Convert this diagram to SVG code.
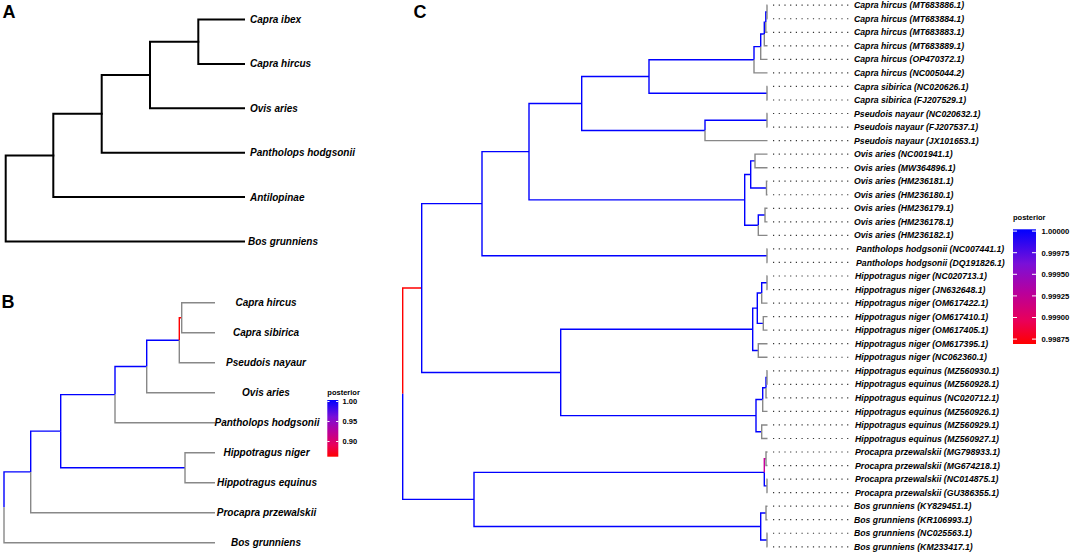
<svg xmlns="http://www.w3.org/2000/svg" width="1072" height="555" viewBox="0 0 1072 555">
<style>
.bg{fill:#fff}
.pl{font-family:"Liberation Sans",Arial,sans-serif;font-weight:bold;font-size:18px;fill:#000}
.ta{font-family:"Liberation Sans",Arial,sans-serif;font-weight:bold;font-style:italic;font-size:10px;fill:#000}
.tb{font-family:"Liberation Sans",Arial,sans-serif;font-weight:bold;font-style:italic;font-size:10px;fill:#000;text-anchor:middle}
.tc{font-family:"Liberation Sans",Arial,sans-serif;font-weight:bold;font-style:italic;font-size:8.7px;fill:#000}
.lg{font-family:"Liberation Sans",Arial,sans-serif;font-weight:bold;font-size:7.5px;fill:#000}
.lgc{font-family:"Liberation Sans",Arial,sans-serif;font-weight:bold;font-size:7.7px;fill:#000}
.ea{fill:none;stroke:#000;stroke-width:2;stroke-linejoin:miter;stroke-linecap:square}
.e{fill:none;stroke-width:1.4;stroke-linejoin:miter;stroke-linecap:butt}
.blue{stroke:#0000ff}
.grey{stroke:#888888}
.red{stroke:#ff0000}
.mag{stroke:#c8009c}
.dot{fill:none;stroke:#333;stroke-width:1.2;stroke-dasharray:1.2 4.5}
.tick{stroke:#fff;stroke-width:1}
</style>
<defs>
<linearGradient id="post" x1="0" y1="0" x2="0" y2="1">
<stop offset="0" stop-color="#0000ff"/>
<stop offset="0.3" stop-color="#7a10d8"/>
<stop offset="0.55" stop-color="#b8009c"/>
<stop offset="0.8" stop-color="#ea0058"/>
<stop offset="1" stop-color="#ff0000"/>
</linearGradient>
</defs>
<rect class="bg" x="0" y="0" width="1072" height="555"/>

<text class="pl" x="2.5" y="18.3">A</text>
<text class="pl" x="1.5" y="308.3">B</text>
<text class="pl" x="413.5" y="18.3">C</text>

<!-- Panel A -->
<g id="connectors-A">
<path class="ea" d="M53.3,155.48 H5.7 V241.5 H244"/>
<path class="ea" d="M101.7,113.85 H53.3 V197.1 H244"/>
<path class="ea" d="M150,75 H101.7 V152.7 H244"/>
<path class="ea" d="M198.3,41.7 H150 V108.3 H244"/>
<path class="ea" d="M244,19.5 H198.3 V63.9 H244"/>
</g>
<g id="A-capra-ibex"><text class="ta" x="250" y="23">Capra ibex</text></g>
<g id="A-capra-hircus"><text class="ta" x="250" y="67.4">Capra hircus</text></g>
<g id="A-ovis-aries"><text class="ta" x="250" y="111.8">Ovis aries</text></g>
<g id="A-pantholops"><text class="ta" x="250" y="156.2">Pantholops hodgsonii</text></g>
<g id="A-antilopinae"><text class="ta" x="250" y="200.6">Antilopinae</text></g>
<g id="A-bos"><text class="ta" x="248" y="245">Bos grunniens</text></g>

<!-- Panel B -->
<g id="connectors-B">
<path class="e blue" d="M4,507.31 V471.92 H30.7"/>
<path class="e blue" d="M30.7,471.92 V431.14 H60.7"/>
<path class="e blue" d="M60.7,431.14 V394.58 H115"/>
<path class="e blue" d="M60.7,431.14 V467.7 H185"/>
<path class="e blue" d="M115,394.58 V366.45 H146.7"/>
<path class="e blue" d="M146.7,366.45 V340.2 H179.3"/>
<path class="e red" d="M179.3,340.2 V317.7 H181.7"/>
<path class="e grey" d="M181.7,317.7 V302.7 H215"/>
<path class="e grey" d="M181.7,317.7 V332.7 H215"/>
<path class="e grey" d="M179.3,340.2 V362.7 H215"/>
<path class="e grey" d="M146.7,366.45 V392.7 H215"/>
<path class="e grey" d="M115,394.58 V422.7 H215"/>
<path class="e grey" d="M185,467.7 V452.7 H215"/>
<path class="e grey" d="M185,467.7 V482.7 H215"/>
<path class="e grey" d="M30.7,471.92 V512.7 H215"/>
<path class="e grey" d="M4,507.31 V542.7 H215"/>
</g>
<g id="B-capra-hircus"><text class="tb" x="266" y="306.3">Capra hircus</text></g>
<g id="B-capra-sibirica"><text class="tb" x="266" y="336.3">Capra sibirica</text></g>
<g id="B-pseudois"><text class="tb" x="266" y="366.3">Pseudois nayaur</text></g>
<g id="B-ovis"><text class="tb" x="266" y="396.3">Ovis aries</text></g>
<g id="B-pantholops"><text class="tb" x="267" y="426.3">Pantholops hodgsonii</text></g>
<g id="B-hipp-niger"><text class="tb" x="266.5" y="456.3">Hippotragus niger</text></g>
<g id="B-hipp-equinus"><text class="tb" x="267" y="486.3">Hippotragus equinus</text></g>
<g id="B-procapra"><text class="tb" x="266.5" y="516.3">Procapra przewalskii</text></g>
<g id="B-bos"><text class="tb" x="266" y="546.3">Bos grunniens</text></g>

<g id="legend-B">
<text class="lg" x="327.3" y="395.3">posterior</text>
<rect x="327.3" y="400" width="11" height="56.7" fill="url(#post)"/>
<path class="tick" d="M327.3,401.5 h2.2 M336.1,401.5 h2.2 M327.3,421.5 h2.2 M336.1,421.5 h2.2 M327.3,441.5 h2.2 M336.1,441.5 h2.2"/>
<text class="lg" x="342.5" y="404.2">1.00</text>
<text class="lg" x="342.5" y="424.2">0.95</text>
<text class="lg" x="342.5" y="444.2">0.90</text>
</g>

<!-- Panel C -->
<g id="connectors-C">
<path class="e red" d="M402.7,393.74 V288.07 H421.7"/>
<path class="e blue" d="M402.7,393.74 V499.41 H474
M421.7,288.07 V203.67 H482
M421.7,288.07 V372.47 H560.7
M482,203.67 V151.66 H529
M482,203.67 V255.69 H767
M529,151.66 V103.47 H581.7
M529,151.66 V199.84 H744.7
M581.7,103.47 V76.5 H649
M581.7,103.47 V130.45 H705
M649,76.5 V59.78 H754
M649,76.5 V93.21 H767
M705,130.45 V120.29 H767
M754,59.78 V46.66 H760.7
M760.7,46.66 V33.96 H764.3
M764.3,33.96 V22.1 H765.8
M765.8,22.1 V11.97 H767
M744.7,199.84 V174.45 H750.7
M744.7,199.84 V225.23 H758.3
M750.7,174.45 V160.91 H755
M750.7,174.45 V187.99 H766.5
M758.3,225.23 V215.07 H765
M560.7,372.47 V329.31 H752.7
M560.7,372.47 V415.63 H756
M752.7,329.31 V308.15 H757.3
M752.7,329.31 V350.47 H758.3
M757.3,308.15 V292.93 H761.7
M757.3,308.15 V323.39 H763.3
M761.7,292.93 V282.77 H767
M756,415.63 V399.55 H762.7
M756,415.63 V431.71 H761.7
M762.7,399.55 V387.7 H766
M766,387.7 V377.55 H767
M474,499.41 V472.33 H764.3
M474,499.41 V526.49 H760.7
M764.3,472.33 V485.87 H767
M760.7,526.49 V512.95 H766
M760.7,526.49 V540.03 H767"/>
<path class="e mag" d="M764.3,472.33 V458.79 H766"/>
<path class="e grey" d="M767,11.97 V5.2 H767.5
M767,11.97 V18.74 H767.5
M765.8,22.1 V32.28 H767.5
M764.3,33.96 V45.82 H767.5
M760.7,46.66 V59.36 H767.5
M754,59.78 V72.9 H767.5
M767,93.21 V86.44 H767.5
M767,93.21 V99.98 H767.5
M767,120.29 V113.52 H767.5
M767,120.29 V127.06 H767.5
M705,130.45 V140.6 H767.5
M755,160.91 V154.14 H767.5
M755,160.91 V167.68 H767.5
M766.5,187.99 V181.22 H767.5
M766.5,187.99 V194.76 H767.5
M765,215.07 V208.3 H767.5
M765,215.07 V221.84 H767.5
M758.3,225.23 V235.38 H767.5
M767,255.69 V248.92 H767.5
M767,255.69 V262.46 H767.5
M767,282.77 V276 H767.5
M767,282.77 V289.54 H767.5
M761.7,292.93 V303.08 H767.5
M763.3,323.39 V316.62 H767.5
M763.3,323.39 V330.16 H767.5
M758.3,350.47 V343.7 H767.5
M758.3,350.47 V357.24 H767.5
M767,377.55 V370.78 H767.5
M767,377.55 V384.32 H767.5
M766,387.7 V397.86 H767.5
M762.7,399.55 V411.4 H767.5
M761.7,431.71 V424.94 H767.5
M761.7,431.71 V438.48 H767.5
M766,458.79 V452.02 H767.5
M766,458.79 V465.56 H767.5
M767,485.87 V479.1 H767.5
M767,485.87 V492.64 H767.5
M766,512.95 V506.18 H767.5
M766,512.95 V519.72 H767.5
M767,540.03 V533.26 H767.5
M767,540.03 V546.8 H767.5"/>
<path class="dot" d="M773,5.2 H849 M773,18.74 H849 M773,32.28 H849 M773,45.82 H849 M773,59.36 H849 M773,72.9 H849 M773,86.44 H849 M773,99.98 H849 M773,113.52 H849 M773,127.06 H849 M773,140.6 H849 M773,154.14 H849 M773,167.68 H849 M773,181.22 H849 M773,194.76 H849 M773,208.3 H849 M773,221.84 H849 M773,235.38 H849 M773,248.92 H849 M773,262.46 H849 M773,276 H849 M773,289.54 H849 M773,303.08 H849 M773,316.62 H849 M773,330.16 H849 M773,343.7 H849 M773,357.24 H849 M773,370.78 H849 M773,384.32 H849 M773,397.86 H849 M773,411.4 H849 M773,424.94 H849 M773,438.48 H849 M773,452.02 H849 M773,465.56 H849 M773,479.1 H849 M773,492.64 H849 M773,506.18 H849 M773,519.72 H849 M773,533.26 H849 M773,546.8 H849"/>
</g>

<g id="C-t00"><text class="tc" x="854" y="8.3">Capra hircus (MT683886.1)</text></g>
<g id="C-t01"><text class="tc" x="854" y="21.84">Capra hircus (MT683884.1)</text></g>
<g id="C-t02"><text class="tc" x="854" y="35.38">Capra hircus (MT683883.1)</text></g>
<g id="C-t03"><text class="tc" x="854" y="48.92">Capra hircus (MT683889.1)</text></g>
<g id="C-t04"><text class="tc" x="854" y="62.46">Capra hircus (OP470372.1)</text></g>
<g id="C-t05"><text class="tc" x="854" y="76">Capra hircus (NC005044.2)</text></g>
<g id="C-t06"><text class="tc" x="854" y="89.54">Capra sibirica (NC020626.1)</text></g>
<g id="C-t07"><text class="tc" x="854" y="103.08">Capra sibirica (FJ207529.1)</text></g>
<g id="C-t08"><text class="tc" x="854" y="116.62">Pseudois nayaur (NC020632.1)</text></g>
<g id="C-t09"><text class="tc" x="854" y="130.16">Pseudois nayaur (FJ207537.1)</text></g>
<g id="C-t10"><text class="tc" x="854" y="143.7">Pseudois nayaur (JX101653.1)</text></g>
<g id="C-t11"><text class="tc" x="854" y="157.24">Ovis aries (NC001941.1)</text></g>
<g id="C-t12"><text class="tc" x="854" y="170.78">Ovis aries (MW364896.1)</text></g>
<g id="C-t13"><text class="tc" x="854" y="184.32">Ovis aries (HM236181.1)</text></g>
<g id="C-t14"><text class="tc" x="854" y="197.86">Ovis aries (HM236180.1)</text></g>
<g id="C-t15"><text class="tc" x="854" y="211.4">Ovis aries (HM236179.1)</text></g>
<g id="C-t16"><text class="tc" x="854" y="224.94">Ovis aries (HM236178.1)</text></g>
<g id="C-t17"><text class="tc" x="854" y="238.48">Ovis aries (HM236182.1)</text></g>
<g id="C-t18"><text class="tc" x="856" y="252.02">Pantholops hodgsonii (NC007441.1)</text></g>
<g id="C-t19"><text class="tc" x="856" y="265.56">Pantholops hodgsonii (DQ191826.1)</text></g>
<g id="C-t20"><text class="tc" x="855" y="279.1">Hippotragus niger (NC020713.1)</text></g>
<g id="C-t21"><text class="tc" x="855" y="292.64">Hippotragus niger (JN632648.1)</text></g>
<g id="C-t22"><text class="tc" x="855" y="306.18">Hippotragus niger (OM617422.1)</text></g>
<g id="C-t23"><text class="tc" x="855" y="319.72">Hippotragus niger (OM617410.1)</text></g>
<g id="C-t24"><text class="tc" x="855" y="333.26">Hippotragus niger (OM617405.1)</text></g>
<g id="C-t25"><text class="tc" x="855" y="346.8">Hippotragus niger (OM617395.1)</text></g>
<g id="C-t26"><text class="tc" x="855" y="360.34">Hippotragus niger (NC062360.1)</text></g>
<g id="C-t27"><text class="tc" x="855" y="373.88">Hippotragus equinus (MZ560930.1)</text></g>
<g id="C-t28"><text class="tc" x="855" y="387.42">Hippotragus equinus (MZ560928.1)</text></g>
<g id="C-t29"><text class="tc" x="855" y="400.96">Hippotragus equinus (NC020712.1)</text></g>
<g id="C-t30"><text class="tc" x="855" y="414.5">Hippotragus equinus (MZ560926.1)</text></g>
<g id="C-t31"><text class="tc" x="855" y="428.04">Hippotragus equinus (MZ560929.1)</text></g>
<g id="C-t32"><text class="tc" x="855" y="441.58">Hippotragus equinus (MZ560927.1)</text></g>
<g id="C-t33"><text class="tc" x="855" y="455.12">Procapra przewalskii (MG798933.1)</text></g>
<g id="C-t34"><text class="tc" x="855" y="468.66">Procapra przewalskii (MG674218.1)</text></g>
<g id="C-t35"><text class="tc" x="855" y="482.2">Procapra przewalskii (NC014875.1)</text></g>
<g id="C-t36"><text class="tc" x="855" y="495.74">Procapra przewalskii (GU386355.1)</text></g>
<g id="C-t37"><text class="tc" x="854" y="509.28">Bos grunniens (KY829451.1)</text></g>
<g id="C-t38"><text class="tc" x="854" y="522.82">Bos grunniens (KR106993.1)</text></g>
<g id="C-t39"><text class="tc" x="854" y="536.36">Bos grunniens (NC025563.1)</text></g>
<g id="C-t40"><text class="tc" x="854" y="549.9">Bos grunniens (KM233417.1)</text></g>

<g id="legend-C">
<text class="lg" x="1013" y="220.3">posterior</text>
<rect x="1013" y="229.3" width="23" height="114.7" fill="url(#post)"/>
<path class="tick" d="M1013,231.1 h4 M1032,231.1 h4 M1013,252.7 h4 M1032,252.7 h4 M1013,274.3 h4 M1032,274.3 h4 M1013,295.9 h4 M1032,295.9 h4 M1013,317.5 h4 M1032,317.5 h4 M1013,339.1 h4 M1032,339.1 h4"/>
<text class="lgc" x="1041.5" y="233.9">1.00000</text>
<text class="lgc" x="1041.5" y="255.5">0.99975</text>
<text class="lgc" x="1041.5" y="277.1">0.99950</text>
<text class="lgc" x="1041.5" y="298.7">0.99925</text>
<text class="lgc" x="1041.5" y="320.3">0.99900</text>
<text class="lgc" x="1041.5" y="341.9">0.99875</text>
</g>
</svg>
